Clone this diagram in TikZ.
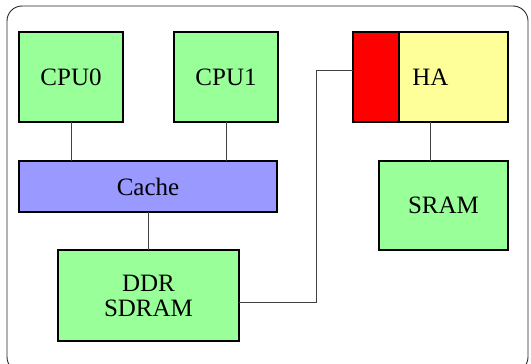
\documentclass[tikz,border=0pt]{standalone}
\usepackage{fontspec}
\setmainfont{Liberation Serif}
\begin{document}
\begin{tikzpicture}[x=1pt,y=-1pt,
  blk/.style={draw=black, line width=1.8pt, inner sep=0pt, outer sep=0pt, font=\fontsize{25}{25}\selectfont, align=center},
  mem/.style={blk, fill=mygreen},
  wire/.style={draw=black!75, line width=0.9pt}]
\definecolor{mygreen}{HTML}{99FF99}
\definecolor{myblue}{HTML}{9999FF}
\definecolor{myyellow}{HTML}{FFFF99}
\useasboundingbox (0,0) rectangle (531,364);
% outer frame
\draw[black!85, line width=0.9pt, rounded corners=15pt] (7,6) rectangle (528,372);
% processors and cache
\node[mem, minimum width=104pt, minimum height=90pt] (cpu0) at (71,77) {CPU0};
\node[mem, minimum width=104pt, minimum height=90pt] (cpu1) at (226,77) {CPU1};
\node[blk, fill=myblue, minimum width=258pt, minimum height=51pt] (cache) at (148,186.5) {Cache};
\node[mem, minimum width=181pt, minimum height=91pt] (ddr) at (148.5,295.5) {DDR\\SDRAM};
% hardware accelerator with its red port section
\node[blk, fill=myyellow, minimum width=155pt, minimum height=90pt] (ha) at (430.5,77) {};
\fill[red] (ha.north west) rectangle ([xshift=46pt]ha.south west);
\draw[line width=1.8pt] ([xshift=46pt]ha.north west) -- ([xshift=46pt]ha.south west);
\draw[line width=1.8pt] (ha.north west) rectangle (ha.south east);
\node[font=\fontsize{25}{25}\selectfont] (halabel) at (ha.center) {HA};
\node[mem, minimum width=129pt, minimum height=89pt] (sram) at (443.5,205.5) {SRAM};
% connections
\draw[wire] (cpu0.south) -- (cpu0.south |- cache.north);
\draw[wire] (cpu1.south) -- (cpu1.south |- cache.north);
\draw[wire] (cache.south) -- (cache.south |- ddr.north);
\draw[wire] (ha.south) -- (ha.south |- sram.north);
\coordinate (bendlow) at (316,302);
\coordinate (bendhigh) at (316,70.5);
\draw[wire] (ddr.east |- bendlow) -- (bendlow) -- (bendhigh) -- (ha.west |- bendhigh);
\end{tikzpicture}
\end{document}
